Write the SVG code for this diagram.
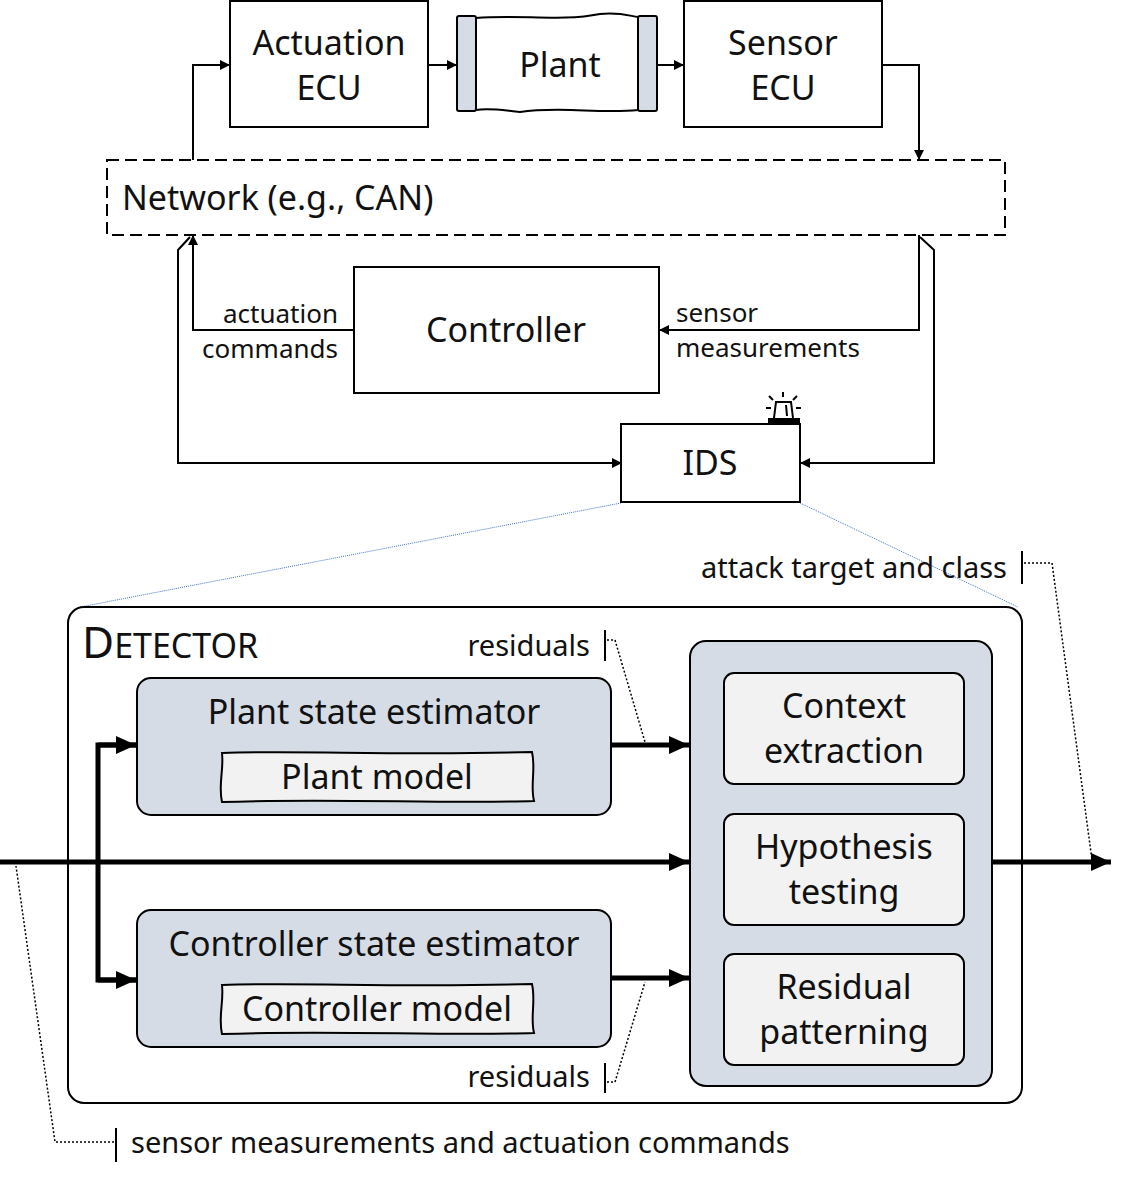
<svg xmlns="http://www.w3.org/2000/svg" width="1131" height="1184" viewBox="0 0 1131 1184">
<style>
text{font-family:"Noto Sans","Open Sans",sans-serif;fill:#111}
.big{font-size:34px;text-anchor:middle}
.lbl{font-size:26px}
.box{fill:#fff;stroke:#000;stroke-width:2}
.est{fill:#d6dce5;stroke:#000;stroke-width:2}
.inn{fill:#f2f2f2;stroke:#000;stroke-width:2}
.ln{fill:none;stroke:#000;stroke-width:2}
.th{fill:none;stroke:#000;stroke-width:5}
.dot{fill:none;stroke:#000;stroke-width:1.5;stroke-dasharray:2 2}
.blue{fill:none;stroke:#4472c4;stroke-width:1;stroke-dasharray:1 1}
</style>
<defs>
<marker id="a" markerWidth="10" markerHeight="10" refX="9" refY="5" orient="auto" markerUnits="userSpaceOnUse"><path d="M0,0L10,5L0,10z"/></marker>
<marker id="b" markerWidth="22" markerHeight="18" refX="20" refY="9" orient="auto" markerUnits="userSpaceOnUse"><path d="M0,0L20,9L0,18z"/></marker>
</defs>
<g id="connectors">
<polyline class="ln" points="193,160 193,65 229,65" marker-end="url(#a)"/>
<line class="ln" x1="428" y1="65" x2="456" y2="65" marker-end="url(#a)"/>
<line class="ln" x1="657" y1="65" x2="683" y2="65" marker-end="url(#a)"/>
<polyline class="ln" points="882,65 919,65 919,159" marker-end="url(#a)"/>
<polyline class="ln" points="919,235 919,330 660,330" marker-end="url(#a)"/>
<polyline class="ln" points="354,330 193,330 193,236" marker-end="url(#a)"/>
<polyline class="ln" points="620,463 178,463 178,250 190,237"/>
<line class="ln" x1="620" y1="463" x2="621" y2="463" marker-end="url(#a)"/>
<polyline class="ln" points="920,237 934,250 934,463 801,463" marker-end="url(#a)"/>
<line class="blue" x1="621" y1="503" x2="80" y2="607"/>
<line class="blue" x1="800" y1="503" x2="1018" y2="607"/>
<line class="th" x1="0" y1="862" x2="689" y2="862" marker-end="url(#b)"/>
<line class="th" x1="992" y1="862" x2="1111" y2="862" marker-end="url(#b)"/>
<polyline class="th" points="136,745 98,745 98,980 136,980" />
<line class="th" x1="98" y1="745" x2="136" y2="745" marker-end="url(#b)"/>
<line class="th" x1="98" y1="980" x2="136" y2="980" marker-end="url(#b)"/>
<line class="th" x1="611" y1="745" x2="689" y2="745" marker-end="url(#b)"/>
<line class="th" x1="611" y1="978" x2="689" y2="978" marker-end="url(#b)"/>
</g>
<g id="actuation-ecu"><rect class="box" x="230" y="1" width="198" height="126"/><text class="big" x="329" y="55">Actuation</text><text class="big" x="329" y="100">ECU</text></g>
<g id="plant">
<path class="box" d="M476,18 C520,14 560,22 600,14 C620,12 630,16 638,17 L638,110 C600,114 560,106 520,112 C500,110 490,108 476,110 Z"/>
<rect x="457" y="16" width="19" height="95" rx="2" fill="#d6dce5" stroke="#000" stroke-width="2"/>
<rect x="638" y="16" width="19" height="95" rx="2" fill="#d6dce5" stroke="#000" stroke-width="2"/>
<text class="big" x="560" y="77">Plant</text></g>
<g id="sensor-ecu"><rect class="box" x="684" y="1" width="198" height="126"/><text class="big" x="783" y="55">Sensor</text><text class="big" x="783" y="100">ECU</text></g>
<g id="network"><rect x="107" y="160" width="898" height="75" fill="#fff" stroke="#000" stroke-width="2" stroke-dasharray="12 6"/><text x="122" y="210" style="font-size:34px">Network (e.g., CAN)</text></g>
<g id="controller"><rect class="box" x="354" y="267" width="305" height="126"/><text class="big" x="506" y="342">Controller</text></g>
<g id="labels-top">
<text class="lbl" x="338" y="323" text-anchor="end">actuation</text>
<text class="lbl" x="338" y="358" text-anchor="end">commands</text>
<text class="lbl" x="676" y="322">sensor</text>
<text class="lbl" x="676" y="357">measurements</text>
</g>
<g id="ids"><rect class="box" x="621" y="424" width="179" height="78"/><text class="big" x="710" y="475">IDS</text>
<g fill="none" stroke="#000" stroke-width="2"><path d="M774,418 L776,402 L791,402 L793,418"/><line x1="786" y1="405" x2="787" y2="416"/><line x1="783" y1="392" x2="783" y2="397"/><line x1="769" y1="396" x2="773" y2="400"/><line x1="797" y1="396" x2="793" y2="400"/><line x1="766" y1="408" x2="771" y2="408"/><line x1="796" y1="408" x2="801" y2="408"/></g>
<rect x="768" y="418" width="32" height="6"/></g>
<g id="detector"><rect x="68" y="607" width="954" height="496" rx="16" fill="none" stroke="#000" stroke-width="2"/>
<text x="82" y="658" style="font-size:44px">D<tspan style="font-size:34px">ETECTOR</tspan></text></g>
<g id="plant-estimator"><rect class="est" x="137" y="678" width="474" height="137" rx="14"/><text class="big" x="374" y="724">Plant state estimator</text>
<path class="inn" d="M222,753 C300,750 400,756 532,752 C536,770 530,785 534,801 C450,804 330,798 222,802 C218,785 224,770 222,753 Z"/><text class="big" x="377" y="789">Plant model</text></g>
<g id="controller-estimator"><rect class="est" x="137" y="910" width="474" height="137" rx="14"/><text class="big" x="374" y="956">Controller state estimator</text>
<path class="inn" d="M222,985 C300,982 400,988 532,984 C536,1002 530,1017 534,1033 C450,1036 330,1030 222,1034 C218,1017 224,1002 222,985 Z"/><text class="big" x="377" y="1021">Controller model</text></g>
<g id="analyzer"><rect class="est" x="690" y="641" width="302" height="445" rx="16"/>
<rect class="inn" x="724" y="673" width="240" height="111" rx="10"/><text class="big" x="844" y="718">Context</text><text class="big" x="844" y="763">extraction</text>
<rect class="inn" x="724" y="814" width="240" height="111" rx="10"/><text class="big" x="844" y="859">Hypothesis</text><text class="big" x="844" y="904">testing</text>
<rect class="inn" x="724" y="954" width="240" height="111" rx="10"/><text class="big" x="844" y="999">Residual</text><text class="big" x="844" y="1044">patterning</text></g>
<g id="annotations">
<text class="lbl" x="590" y="656" text-anchor="end" style="font-size:29px">residuals</text>
<line class="ln" x1="605" y1="630" x2="605" y2="661"/><polyline class="dot" points="607,640 615,640 645,742"/>
<text class="lbl" x="590" y="1087" text-anchor="end" style="font-size:29px">residuals</text>
<line class="ln" x1="605" y1="1063" x2="605" y2="1093"/><polyline class="dot" points="607,1082 615,1082 645,982"/>
<text class="lbl" x="1007" y="578" text-anchor="end" style="font-size:29px">attack target and class</text>
<line class="ln" x1="1022" y1="551" x2="1022" y2="584"/><polyline class="dot" points="1024,563 1052,563 1092,860"/>
<text class="lbl" x="131" y="1153" style="font-size:29px">sensor measurements and actuation commands</text>
<line class="ln" x1="116" y1="1128" x2="116" y2="1162"/><polyline class="dot" points="114,1142 55,1142 16,866"/>
</g>
</svg>
